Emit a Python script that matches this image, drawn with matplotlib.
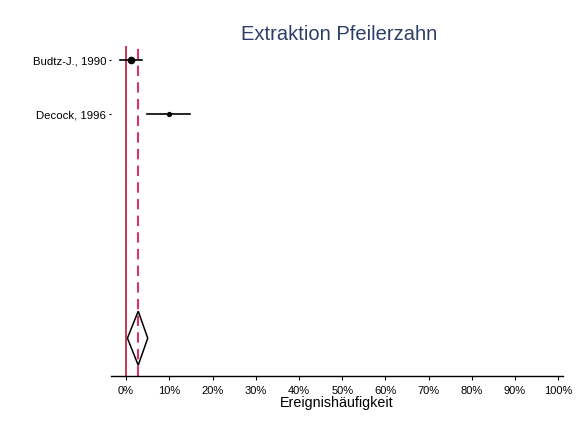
import matplotlib
matplotlib.use("Agg")
import matplotlib.pyplot as plt
from matplotlib.patches import Polygon

plt.rcParams['font.family'] = ['Liberation Sans', 'DejaVu Sans']

# study estimates (event rate in %)
studies = ["Budtz-J., 1990", "Decock, 1996"]
estimate = [1.2, 10.0]
ci_low = [-1.4, 4.9]
ci_high = [3.7, 14.8]
marker_size = [4.5, 2.8]

# pooled estimate
pooled = 2.8
pooled_low = 0.3
pooled_high = 5.0

xticks = list(range(0, 101, 10))
xticklabels = [f"{t}%" for t in xticks]

fig = plt.figure(figsize=(5.78, 4.28), dpi=100)
ax = fig.add_axes([111 / 578, 52 / 428, 452 / 578, 330 / 428])

rows = list(range(len(studies)))
for y, est, lo, hi, ms in zip(rows, estimate, ci_low, ci_high, marker_size):
    ax.plot([lo, hi], [y, y], color='black', lw=1.2, zorder=3)
    ax.plot(est, y, marker='o', color='black', ms=ms, zorder=4)

# summary diamond
yd = 5.15
diamond = Polygon([(pooled_low, yd), (pooled, yd - 0.5), (pooled_high, yd), (pooled, yd + 0.5)],
                  closed=True, fill=False, edgecolor='black', lw=1.1, zorder=3)
ax.add_patch(diamond)

ax.axvline(0, color='#c0143c', lw=1.2, zorder=2)
ax.axvline(pooled, color='#d8336a', lw=1.5, ls=(0, (5, 3)), zorder=2)

ax.set_xlim(-3.5, 101.1)
ax.set_ylim(5.85, -0.26)
ax.set_xticks(xticks)
ax.set_xticklabels(xticklabels, fontsize=8)
ax.set_yticks(rows)
ax.set_yticklabels(studies, fontsize=8.2)
ax.tick_params(axis='y', length=1.5, width=0.8, pad=2)
ax.tick_params(axis='x', length=3, width=0.8, pad=4)

for s in ['top', 'right', 'left']:
    ax.spines[s].set_visible(False)
ax.spines['bottom'].set_linewidth(1.0)

ax.set_xlabel("Ereignishäufigkeit", fontsize=10.3, labelpad=0.5)
fig.text(339 / 578, 1 - 35 / 428, "Extraktion Pfeilerzahn", fontsize=14.5,
         color='#2d3e6b', ha='center', va='center')

fig.savefig("out.png", dpi=100)
